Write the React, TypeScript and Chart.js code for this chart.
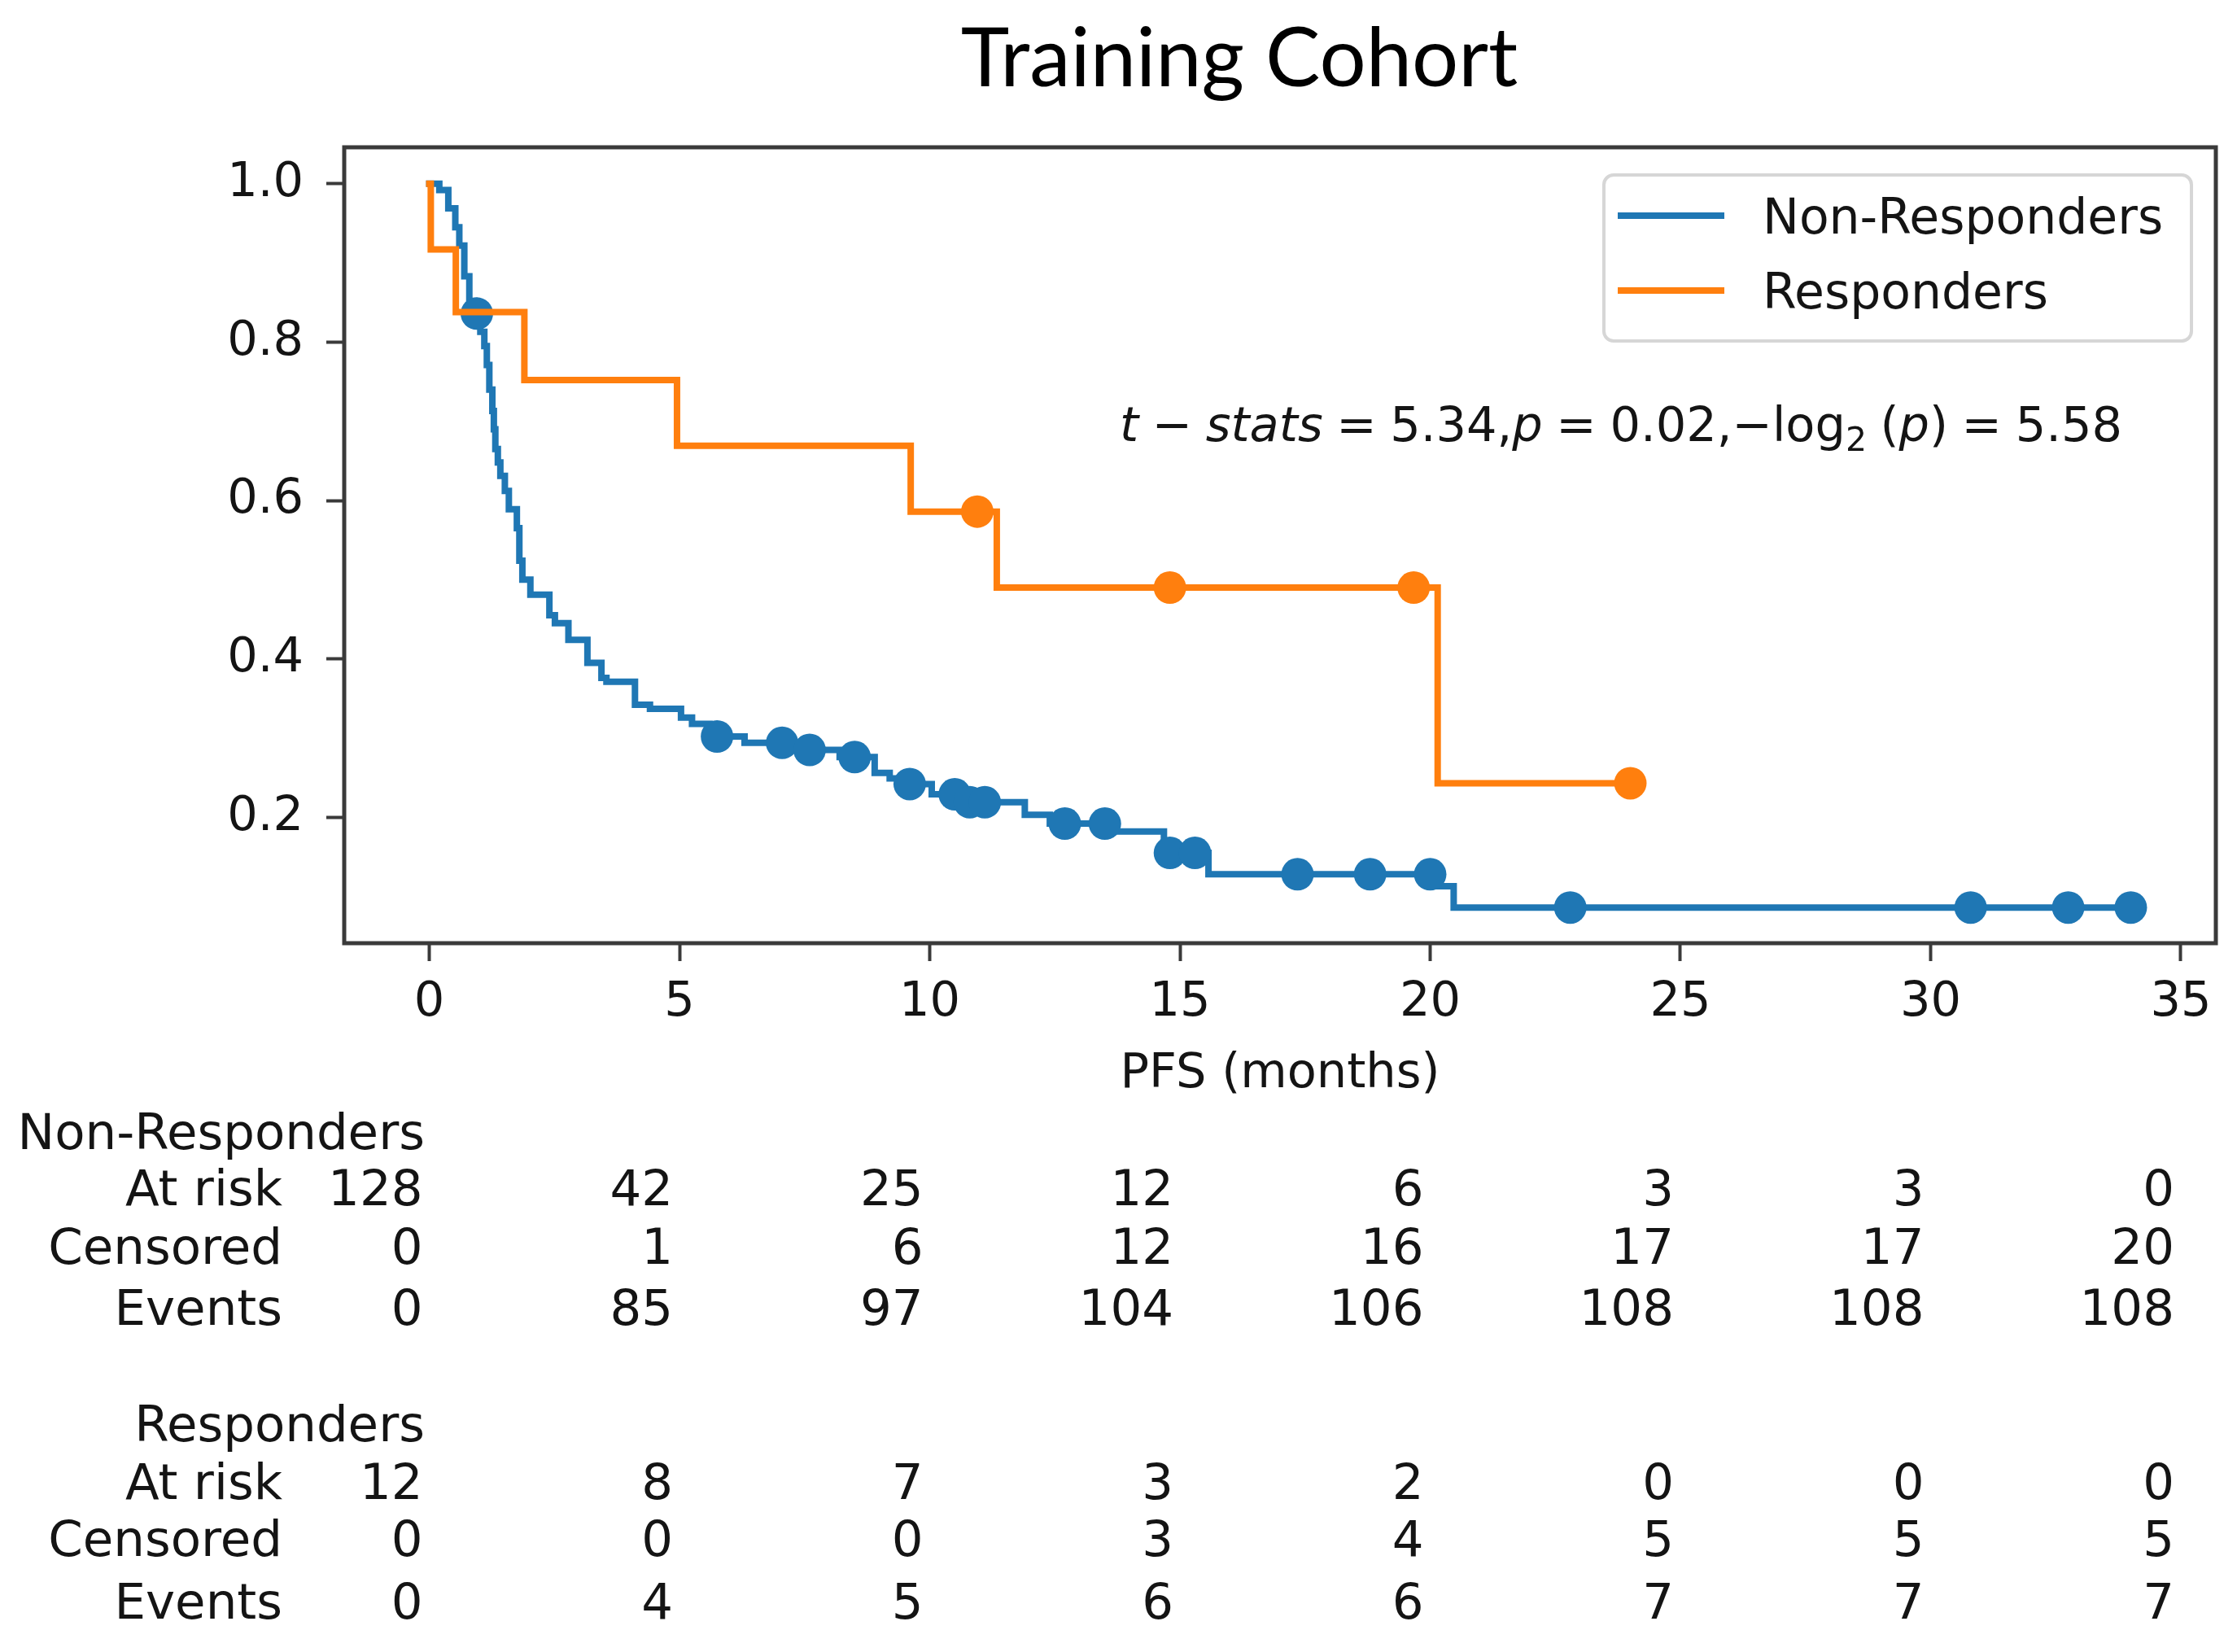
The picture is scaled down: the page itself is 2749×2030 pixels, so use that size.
import React, { useEffect, useRef } from "react";
import { Chart, registerables } from "chart.js";

Chart.register(...registerables);

const W = 2749;
const H = 2030;

// ---------- data ----------
const nonRespTimes = [
  0, 0.2, 0.38, 0.52, 0.6, 0.7, 0.8, 0.9, 1.02, 1.1, 1.15, 1.2, 1.26, 1.29, 1.32, 1.37, 1.42,
  1.51, 1.59, 1.75, 1.8, 1.86, 2.02, 2.4, 2.51, 2.78, 3.16, 3.44, 3.54, 4.11, 4.41, 5.03, 5.25,
  5.6, 6.3, 7.4, 8.2, 8.9, 9.2, 9.45, 10.04, 10.7, 11.9, 12.4, 13.7, 14.68, 15.57, 20.15, 20.47, 34.0,
];
const nonRespSurv = [
  1.0, 0.992, 0.969, 0.945, 0.922, 0.883, 0.852, 0.836, 0.813, 0.795, 0.771, 0.74, 0.713, 0.69, 0.665,
  0.648, 0.631, 0.612, 0.589, 0.565, 0.524, 0.5, 0.481, 0.455, 0.445, 0.424, 0.395, 0.376, 0.371,
  0.342, 0.337, 0.326, 0.318, 0.302, 0.294, 0.285, 0.276, 0.256, 0.249, 0.242, 0.229, 0.219, 0.203,
  0.192, 0.182, 0.155, 0.128, 0.113, 0.086, 0.086,
];
const nonRespCensorTimes = [
  0.95, 5.75, 7.05, 7.6, 8.5, 9.6, 10.5, 10.8, 11.1, 12.7, 13.5, 14.8, 15.3, 17.35, 18.8, 20.0, 22.8,
  30.8, 32.75, 34.0,
];
const nonRespCensorSurv = [
  0.836, 0.302, 0.294, 0.285, 0.276, 0.242, 0.229, 0.219, 0.219, 0.192, 0.192, 0.155, 0.155, 0.128,
  0.128, 0.128, 0.086, 0.086, 0.086, 0.086,
];

const respTimes = [0, 0.03, 0.53, 1.9, 4.95, 9.62, 11.34, 20.15, 24.0];
const respSurv = [1.0, 0.917, 0.838, 0.752, 0.669, 0.586, 0.49, 0.243, 0.243];
const respCensorTimes = [10.95, 14.8, 19.67, 24.0];
const respCensorSurv = [0.586, 0.49, 0.49, 0.243];

const xTicks = [0, 5, 10, 15, 20, 25, 30, 35];
const yTicks = [0.2, 0.4, 0.6, 0.8, 1.0];

const tableTimes = [0, 5, 10, 15, 20, 25, 30, 35];
const nrAtRisk = [128, 42, 25, 12, 6, 3, 3, 0];
const nrCensored = [0, 1, 6, 12, 16, 17, 17, 20];
const nrEvents = [0, 85, 97, 104, 106, 108, 108, 108];
const rAtRisk = [12, 8, 7, 3, 2, 0, 0, 0];
const rCensored = [0, 0, 0, 3, 4, 5, 5, 5];
const rEvents = [0, 4, 5, 6, 6, 7, 7, 7];

const seriesNames = ["Non-Responders", "Responders"];
const titleText = "Training Cohort";
const xLabel = "PFS (months)";

// ---------- style ----------
const BLUE = "#1f77b4";
const ORANGE = "#ff7f0e";
const AXIS = "#3a3a3a";
const TEXT = "#141414";
const FONT = '"DejaVu Sans", sans-serif';

const zip = (xs: number[], ys: number[]) => xs.map((x, i) => ({ x, y: ys[i] }));

const decorPlugin = {
  id: "decor",
  afterDraw(chart: any) {
    const ctx: CanvasRenderingContext2D = chart.ctx;
    const a = chart.chartArea;
    const xs = chart.scales.x;
    ctx.save();

    // frame
    ctx.strokeStyle = AXIS;
    ctx.lineWidth = 5;
    ctx.strokeRect(a.left, a.top, a.right - a.left, a.bottom - a.top);

    // title
    ctx.fillStyle = "#000";
    ctx.font = '101px Lato, "Liberation Sans", sans-serif';
    ctx.textAlign = "center";
    ctx.textBaseline = "alphabetic";
    ctx.fillText(titleText, 1523, 106);

    // x label
    ctx.fillStyle = TEXT;
    ctx.font = `59px ${FONT}`;
    ctx.fillText(xLabel, (a.left + a.right) / 2, 1336);

    // legend
    const lx = 1971, ly = 215, lw = 722, lh = 204, r = 12;
    ctx.beginPath();
    ctx.moveTo(lx + r, ly);
    ctx.arcTo(lx + lw, ly, lx + lw, ly + lh, r);
    ctx.arcTo(lx + lw, ly + lh, lx, ly + lh, r);
    ctx.arcTo(lx, ly + lh, lx, ly, r);
    ctx.arcTo(lx, ly, lx + lw, ly, r);
    ctx.closePath();
    ctx.fillStyle = "rgba(255,255,255,0.85)";
    ctx.fill();
    ctx.strokeStyle = "#d6d6d6";
    ctx.lineWidth = 4;
    ctx.stroke();
    const legendRows = [
      { name: seriesNames[0], color: BLUE, y: 265 },
      { name: seriesNames[1], color: ORANGE, y: 357 },
    ];
    legendRows.forEach((row) => {
      ctx.strokeStyle = row.color;
      ctx.lineWidth = 8;
      ctx.beginPath();
      ctx.moveTo(1988, row.y);
      ctx.lineTo(2119, row.y);
      ctx.stroke();
      ctx.fillStyle = TEXT;
      ctx.font = `60px ${FONT}`;
      ctx.textAlign = "left";
      ctx.textBaseline = "alphabetic";
      ctx.fillText(row.name, 2166, row.y + 22);
    });

    // statistics annotation (math-like)
    const size = 59;
    type Seg = [string, string];
    const segs: Seg[] = [
      ["t", "i"], ["_", "g"], ["\u2212", "n"], ["_", "g"], ["stats", "i"], ["_", "g"], ["=", "n"],
      ["_", "g"], ["5.34,", "n"], ["p", "i"], ["_", "g"], ["=", "n"], ["_", "g"],
      ["0.02,\u2212log", "n"], ["2", "s"], ["_", "g"], ["(", "n"], ["p", "i"], [")", "n"],
      ["_", "g"], ["=", "n"], ["_", "g"], ["5.58", "n"],
    ];
    const fontFor = (k: string) =>
      k === "i" ? `italic ${size}px ${FONT}` : k === "s" ? `${Math.round(size * 0.7)}px ${FONT}` : `${size}px ${FONT}`;
    let natural = 0;
    let gaps = 0;
    segs.forEach(([t, k]) => {
      if (k === "g") { gaps++; return; }
      ctx.font = fontFor(k);
      natural += ctx.measureText(t).width;
    });
    const startX = 1376;
    const endX = 2608;
    const gap = Math.max(4, (endX - startX - natural) / gaps);
    let cx = startX;
    const base = 542;
    ctx.fillStyle = TEXT;
    ctx.textAlign = "left";
    ctx.textBaseline = "alphabetic";
    segs.forEach(([t, k]) => {
      if (k === "g") { cx += gap; return; }
      ctx.font = fontFor(k);
      ctx.fillText(t, cx, k === "s" ? base + 12 : base);
      cx += ctx.measureText(t).width;
    });

    // at-risk table
    const tsize = 61;
    const labelRight = 347;
    const headRight = 522;
    const groups = [
      { name: seriesNames[0], rows: [nrAtRisk, nrCensored, nrEvents], ys: [1412, 1481, 1553, 1628] },
      { name: seriesNames[1], rows: [rAtRisk, rCensored, rEvents], ys: [1771, 1842, 1912, 1989] },
    ];
    const rowNames = ["At risk", "Censored", "Events"];
    ctx.font = `${tsize}px ${FONT}`;
    ctx.fillStyle = TEXT;
    ctx.textAlign = "right";
    groups.forEach((g) => {
      ctx.fillText(g.name, headRight, g.ys[0]);
      g.rows.forEach((vals, ri) => {
        const y = g.ys[ri + 1];
        ctx.fillText(rowNames[ri], labelRight, y);
        vals.forEach((v, ci) => {
          ctx.fillText(String(v), xs.getPixelForValue(tableTimes[ci]) - 8, y);
        });
      });
    });

    ctx.restore();
  },
};

export default function App() {
  const ref = useRef<HTMLCanvasElement>(null);

  useEffect(() => {
    const canvas = ref.current;
    if (!canvas) return;
    document.body.style.margin = "0";
    const lineCommon = {
      showLine: true,
      stepped: true as const,
      pointRadius: 0,
      borderWidth: 8,
      borderCapStyle: "square" as const,
      borderJoinStyle: "miter" as const,
      fill: false,
    };
    const chart = new Chart(canvas, {
      type: "scatter",
      data: {
        datasets: [
          {
            label: seriesNames[1] + " censored",
            data: zip(respCensorTimes, respCensorSurv),
            showLine: false,
            pointRadius: 20,
            pointBackgroundColor: ORANGE,
            pointBorderColor: ORANGE,
            pointBorderWidth: 0,
            order: 0,
          },
          {
            label: seriesNames[1],
            data: zip(respTimes, respSurv),
            borderColor: ORANGE,
            backgroundColor: ORANGE,
            ...lineCommon,
            order: 1,
          },
          {
            label: seriesNames[0] + " censored",
            data: zip(nonRespCensorTimes, nonRespCensorSurv),
            showLine: false,
            pointRadius: 20,
            pointBackgroundColor: BLUE,
            pointBorderColor: BLUE,
            pointBorderWidth: 0,
            order: 2,
          },
          {
            label: seriesNames[0],
            data: zip(nonRespTimes, nonRespSurv),
            borderColor: BLUE,
            backgroundColor: BLUE,
            ...lineCommon,
            order: 3,
          },
        ],
      },
      options: {
        responsive: false,
        animation: false,
        devicePixelRatio: 1,
        layout: { padding: { left: 0, top: 181, right: 26, bottom: 0 } },
        plugins: {
          legend: { display: false },
          title: { display: false },
          tooltip: { enabled: false },
        },
        scales: {
          x: {
            type: "linear",
            min: -1.7,
            max: 35.7,
            afterBuildTicks: (s: any) => {
              s.ticks = xTicks.map((v) => ({ value: v }));
            },
            afterFit: (s: any) => {
              s.height = H - 1159;
            },
            ticks: {
              autoSkip: false,
              maxRotation: 0,
              padding: 16,
              color: TEXT,
              font: { family: FONT, size: 59 },
              callback: (v: any) => String(v),
            },
            grid: { drawOnChartArea: false, tickLength: 22, tickWidth: 4, tickColor: AXIS },
            border: { display: false },
          },
          y: {
            type: "linear",
            min: 0.041,
            max: 1.046,
            afterBuildTicks: (s: any) => {
              s.ticks = yTicks.map((v) => ({ value: v }));
            },
            afterFit: (s: any) => {
              s.width = 423;
            },
            ticks: {
              autoSkip: false,
              padding: 28,
              color: TEXT,
              font: { family: FONT, size: 59 },
              callback: (v: any) => Number(v).toFixed(1),
            },
            grid: { drawOnChartArea: false, tickLength: 22, tickWidth: 4, tickColor: AXIS },
            border: { display: false },
          },
        },
      },
      plugins: [decorPlugin],
    });
    return () => chart.destroy();
  }, []);

  return (
    <div style={{ position: "absolute", left: 0, top: 0, width: W, height: H, background: "#fff" }}>
      <canvas ref={ref} width={W} height={H} style={{ display: "block", width: W, height: H }} />
    </div>
  );
}
